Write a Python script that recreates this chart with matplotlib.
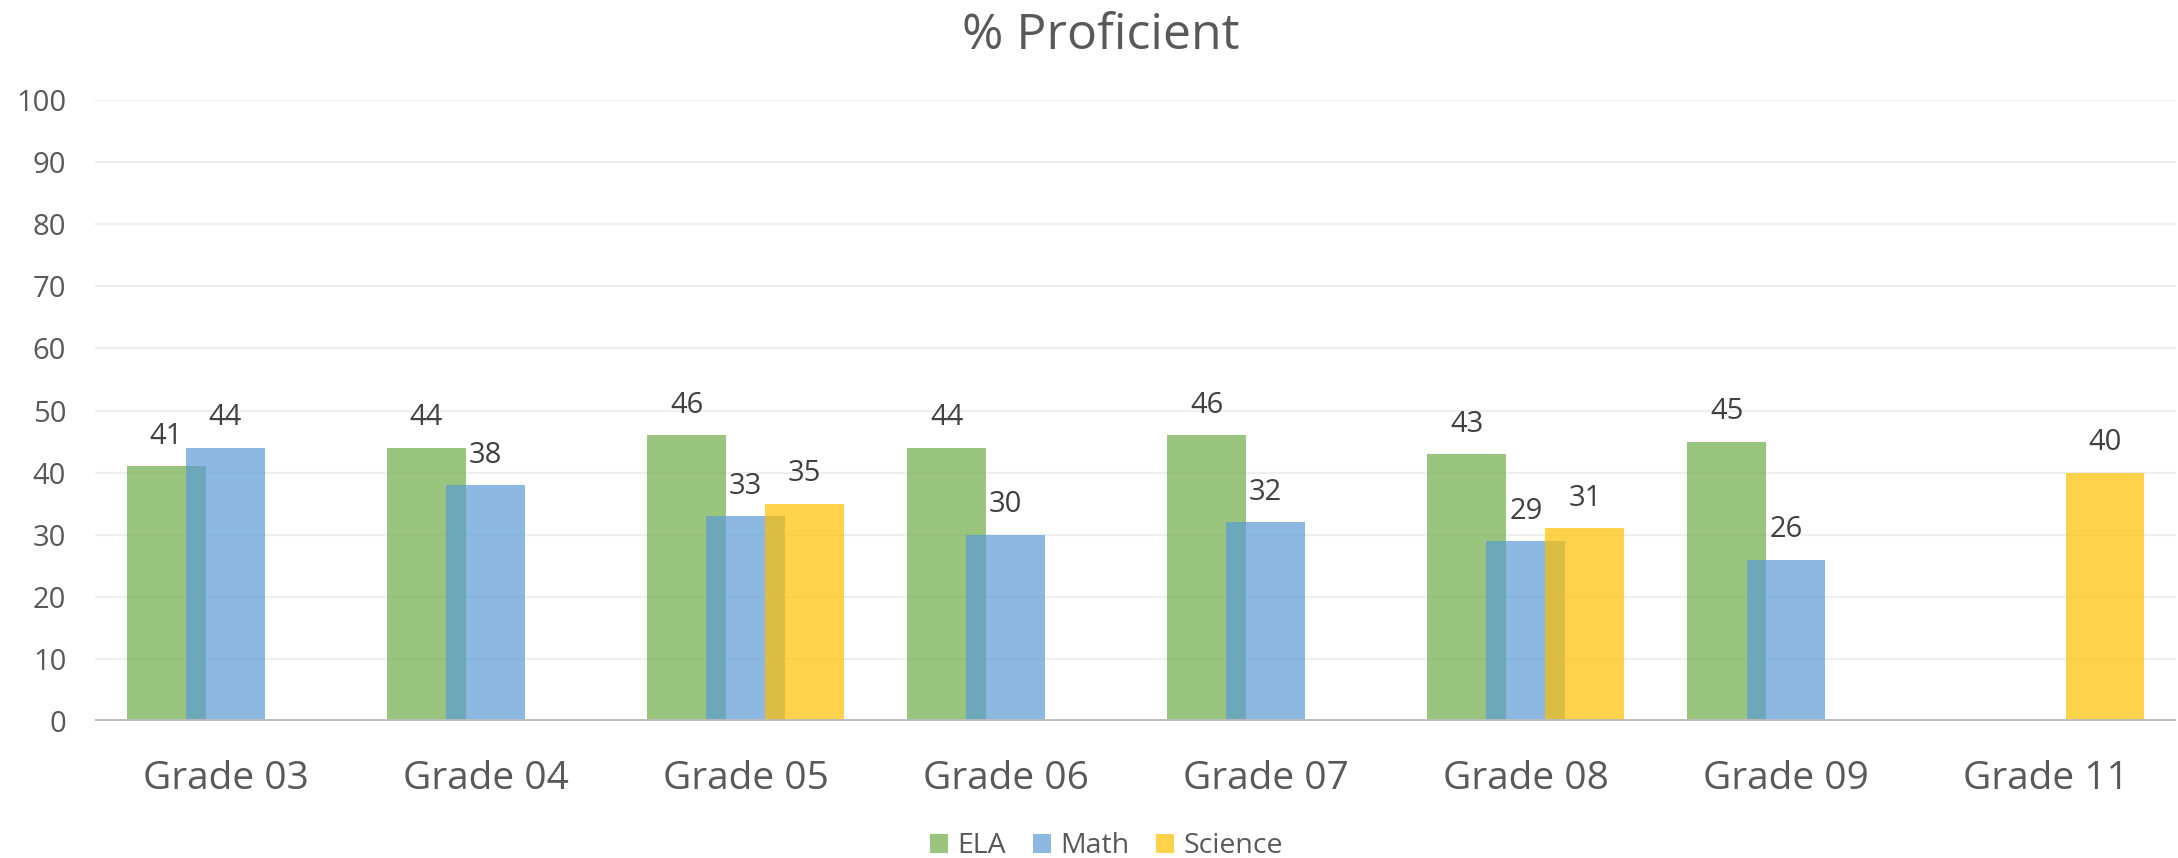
import numpy as np
import matplotlib
matplotlib.use('Agg')
import matplotlib.pyplot as plt

plt.rcParams['font.family'] = ['Open Sans', 'DejaVu Sans']

# chart data
grades = ['Grade 03', 'Grade 04', 'Grade 05', 'Grade 06', 'Grade 07', 'Grade 08', 'Grade 09', 'Grade 11']
ela = [41, 44, 46, 44, 46, 43, 45, None]
math = [44, 38, 33, 30, 32, 29, 26, None]
science = [None, None, 35, None, None, 31, None, 40]

series = [('ELA', ela, '#70AD47'), ('Math', math, '#5B9BD5'), ('Science', science, '#FFC000')]

fig = plt.figure(figsize=(21.78, 8.58), dpi=100)
ax = fig.add_axes([0.0438, 0.1597, 0.9553, 0.7237])

x = np.arange(len(grades))
width = 0.303
step = 0.227

for i, (name, vals, color) in enumerate(series):
    xs = [xi + (i - 1) * step for xi, v in zip(x, vals) if v is not None]
    ys = [v for v in vals if v is not None]
    ax.bar(xs, ys, width=width, color=color, alpha=0.7, label=name, zorder=3, linewidth=0)
    for xx, yy in zip(xs, ys):
        ax.annotate(str(yy), (xx, yy), xytext=(0, 21.5), textcoords='offset points',
                    ha='center', va='center', fontsize=21, color='#404040', zorder=4)

ax.set_xlim(-0.5, len(grades) - 0.5)
ax.set_ylim(0, 100)
ax.set_yticks(range(0, 101, 10))
ax.set_xticks(x)
ax.set_xticklabels(grades)

ax.grid(axis='y', color='#efefef', linewidth=1.6, zorder=0)
ax.axhline(0, color='#bcbcbc', linewidth=2.8, zorder=5)
for s in ax.spines.values():
    s.set_visible(False)
ax.tick_params(axis='both', length=0)
ax.tick_params(axis='y', labelsize=21, labelcolor='#595959', pad=21)
ax.tick_params(axis='x', labelsize=28, labelcolor='#595959', pad=28)

fig.text(0.5055, 0.958, '% Proficient', ha='center', va='center', fontsize=36, color='#595959')

fig.legend(loc='center', bbox_to_anchor=(0.508, 0.0135), ncol=3, frameon=False,
           fontsize=20.5, labelcolor='#595959', handlelength=0.63, handleheight=0.63,
           handletextpad=0.33, columnspacing=0.95)

fig.savefig('out.png', dpi=100)
